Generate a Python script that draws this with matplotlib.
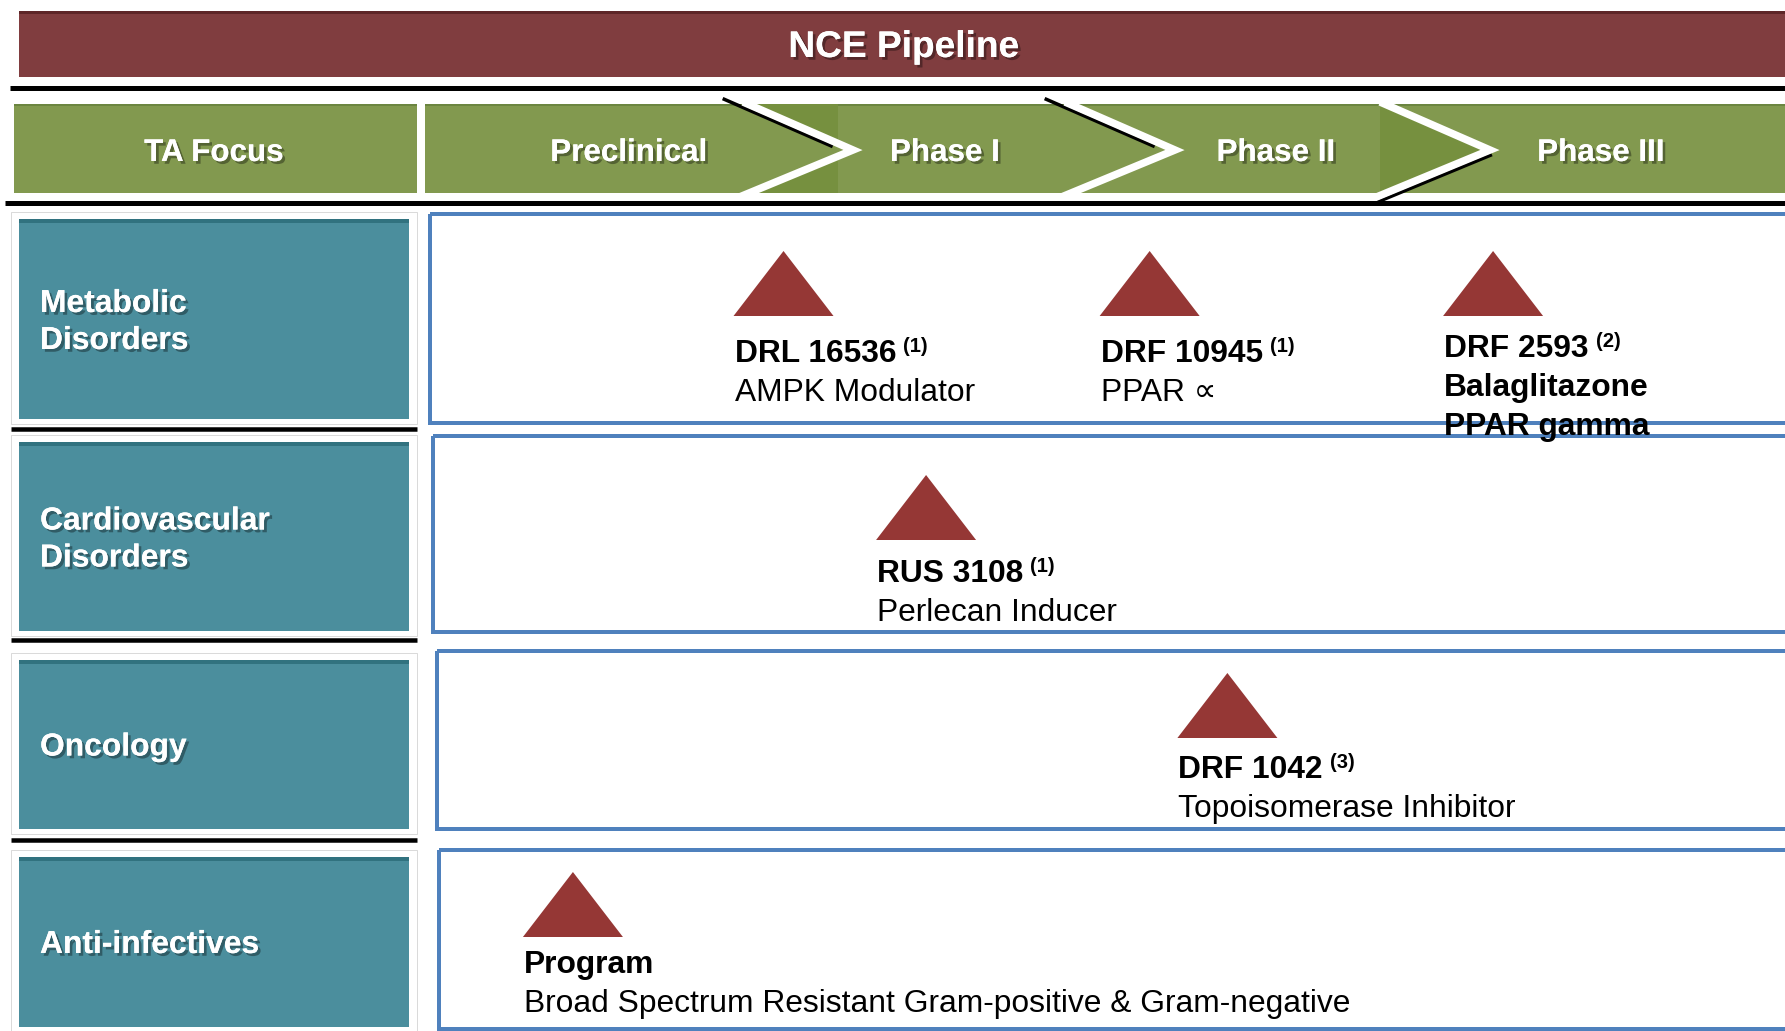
import matplotlib
matplotlib.use("Agg")
import numpy as np
import matplotlib.pyplot as plt
from matplotlib.patches import Rectangle, Polygon
import matplotlib.patheffects as pe

plt.rcParams['font.family'] = ['Liberation Sans', 'DejaVu Sans']

# ---- content ----
title = "NCE Pipeline"
focus_header = "TA Focus"
phases = ["Preclinical", "Phase I", "Phase II", "Phase III"]
areas = [["Metabolic", "Disorders"], ["Cardiovascular", "Disorders"], ["Oncology"], ["Anti-infectives"]]

compounds = ["DRL 16536", "DRF 10945", "DRF 2593", "RUS 3108", "DRF 1042", "Program"]
notes = ["(1)", "(1)", "(2)", "(1)", "(3)", ""]
descriptions = [["AMPK Modulator"], ["PPAR \u221d"], ["Balaglitazone", "PPAR gamma"],
                ["Perlecan Inducer"], ["Topoisomerase Inhibitor"],
                ["Broad Spectrum Resistant Gram-positive & Gram-negative"]]
desc_bold = [False, False, True, False, False, False]
area_index = [0, 0, 0, 1, 2, 3]
stage = [0.48, 1.61, 2.67, 0.92, 1.85, -0.17]   # 0 = Preclinical ... 3 = Phase III

# ---- layout (pixels, y down) ----
W, H = 1785, 1031
PX = 0.72  # points per pixel at dpi 100

MAROON = "#803D3F"
GREEN = "#82994F"
GREEN_DK = "#76903F"
TEAL = "#4B8E9D"
TEAL_DK = "#31727F"
TRI = "#953735"
BLUE = "#4F81BD"

phase_x = [629, 945, 1276, 1601]
chevron_tip = [853, 1175, 1490]
teal_top = [219, 442, 660, 857]
teal_bot = [419, 631, 829, 1027]
sep_y = [429, 640, 840]
blue_left = [430, 433, 437, 439]
blue_top = [214, 436, 651, 850]
blue_bot = [423, 632, 829, 1029]
marker_y = [251, 475, 673, 872]
name_base = [362, 582, 778, 973]


def stage_x(s):
    return 628 + 324 * s


fig = plt.figure(figsize=(W / 100, H / 100), dpi=100)
ax = fig.add_axes([0, 0, 1, 1])
ax.set_xlim(0, W)
ax.set_ylim(H, 0)
ax.axis('off')

shadow = [pe.withSimplePatchShadow(offset=(2, -2), shadow_rgbFace='black', alpha=0.35), pe.Normal()]

# title bar
ax.add_patch(Rectangle((19, 11), W, 66, facecolor=MAROON, edgecolor='none'))
ax.add_patch(Rectangle((19, 11), W, 3, facecolor="#5E2628", edgecolor='none'))
ax.text(904, 57, title, color='white', fontsize=26.7, fontweight='bold', ha='center',
        va='baseline', path_effects=shadow)
ax.plot([10, W], [87.5, 87.5], color='black', lw=5 * PX, solid_capstyle='butt')

# header row
ax.add_patch(Rectangle((14, 104), 403, 89, facecolor=GREEN, edgecolor='none'))
ax.add_patch(Rectangle((425, 104), W, 89, facecolor=GREEN, edgecolor='none'))
ax.add_patch(Rectangle((14, 104), 403, 2, facecolor="#6B8540", edgecolor='none'))
ax.add_patch(Rectangle((425, 104), W, 2, facecolor="#6B8540", edgecolor='none'))

for i, tip in enumerate(chevron_tip):
    top = np.array([tip - 110, 102.0])
    mid = np.array([tip, 150.0])
    bot = np.array([tip - 116, 198.0])
    k_up = (mid[1] - top[1]) / (mid[0] - top[0])
    k_lo = (bot[1] - mid[1]) / (bot[0] - mid[0])
    if i == 0:
        xr = tip - 15
        ax.add_patch(Polygon([(top[0] + (104 - top[1]) / k_up, 104), (xr, 104),
                              (xr, top[1] + (xr - top[0]) * k_up)],
                             facecolor=GREEN_DK, edgecolor='none'))
        ax.add_patch(Polygon([(xr, mid[1] + (xr - tip) * k_lo), (xr, 193),
                              (tip + (193 - mid[1]) / k_lo, 193)],
                             facecolor=GREEN_DK, edgecolor='none'))
    if i == 2:
        ax.add_patch(Polygon([(top[0], 104), mid, (tip + (193 - mid[1]) / k_lo, 193), (top[0], 193)],
                             facecolor=GREEN_DK, edgecolor='none'))
    if i < 2:
        d = (mid - top) / np.hypot(*(mid - top))
        n = np.array([-d[1], d[0]])
        a = top - 20 * d + 5 * n
        b = mid - 20 * d + 5 * n
        ax.plot([a[0], b[0]], [a[1], b[1]], color='black', lw=3.5 * PX, solid_capstyle='butt')
    else:
        d = (bot - mid) / np.hypot(*(bot - mid))
        n = np.array([d[1], -d[0]])
        n = n if n[1] > 0 else -n
        a = mid + 5 * n
        b = bot + 5 * n + 4 * d
        ax.plot([a[0], b[0]], [a[1], b[1]], color='black', lw=3.5 * PX, solid_capstyle='butt')
    ax.plot([top[0], tip, bot[0]], [top[1], mid[1], bot[1]], color='white', lw=7.5 * PX,
            solid_joinstyle='miter', solid_capstyle='butt')

ax.text(214, 161, focus_header, color='white', fontsize=22.6, fontweight='bold',
        ha='center', va='baseline', path_effects=shadow)
for name, x in zip(phases, phase_x):
    ax.text(x, 161, name, color='white', fontsize=22.6, fontweight='bold',
            ha='center', va='baseline', path_effects=shadow)
ax.plot([5, W], [203, 203], color='black', lw=5 * PX, solid_capstyle='butt')

# therapeutic area rows
for r, lines in enumerate(areas):
    t, b = teal_top[r], teal_bot[r]
    ax.add_patch(Rectangle((11, t - 7), 406, b - t + 12, facecolor='white',
                           edgecolor="#DADADA", lw=1 * PX))
    ax.add_patch(Rectangle((19, t), 390, b - t, facecolor=TEAL, edgecolor='none'))
    ax.add_patch(Rectangle((19, t), 390, 4, facecolor=TEAL_DK, edgecolor='none'))
    c = (t + b) / 2
    bases = [c - 7, c + 30] if len(lines) == 2 else [c + 11]
    for line, yb in zip(lines, bases):
        ax.text(40, yb, line, color='white', fontsize=22.9, fontweight='bold',
                ha='left', va='baseline', path_effects=shadow)
    ax.add_patch(Rectangle((blue_left[r], blue_top[r]), W + 20 - blue_left[r],
                           blue_bot[r] - blue_top[r], facecolor='none',
                           edgecolor=BLUE, lw=4 * PX))

for y in sep_y:
    ax.plot([11, 417], [y, y], color='black', lw=4.5 * PX, solid_capstyle='butt')

# compounds
fig.canvas.draw()
renderer = fig.canvas.get_renderer()
for i, name in enumerate(compounds):
    r = area_index[i]
    cx = stage_x(stage[i])
    ay = marker_y[r]
    ax.add_patch(Polygon([(cx - 50, ay + 65), (cx, ay), (cx + 50, ay + 65)],
                         facecolor=TRI, edgecolor='none'))
    yb = name_base[r] - (5 if len(descriptions[i]) > 1 else 0)
    t = ax.text(cx - 49, yb, name, color='black', fontsize=22.9, fontweight='bold',
                ha='left', va='baseline')
    if notes[i]:
        x1 = t.get_window_extent(renderer).x1
        ax.text(x1 + 7, yb - 10, notes[i], color='black', fontsize=14.5,
                fontweight='bold', ha='left', va='baseline')
    for j, d in enumerate(descriptions[i]):
        ax.text(cx - 49, yb + 39 * (j + 1), d, color='black', fontsize=22.9,
                fontweight='bold' if desc_bold[i] else 'normal', ha='left', va='baseline')

fig.savefig("out.png", dpi=100)
